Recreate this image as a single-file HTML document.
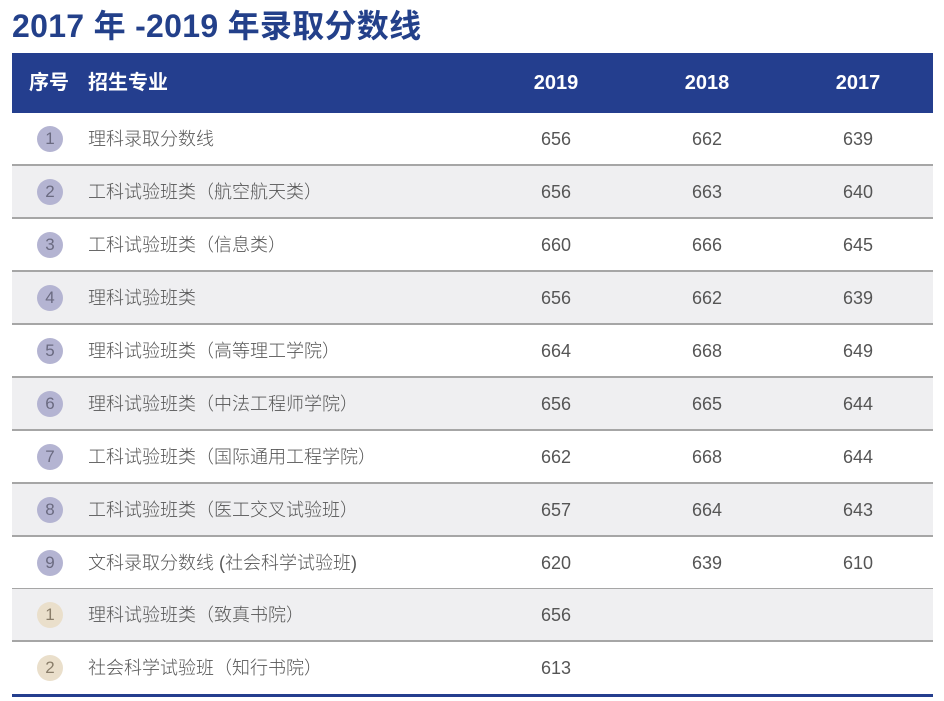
<!DOCTYPE html>
<html><head><meta charset="utf-8"><style>
body{margin:0;width:944px;height:701px;background:#fff;position:relative;overflow:hidden;font-family:"Liberation Sans","Noto Sans CJK SC",sans-serif;}
.title{position:absolute;left:12px;top:1px;font-size:32px;font-weight:bold;color:#23408a;letter-spacing:0.3px;white-space:nowrap;}
.hdr{position:absolute;left:12px;top:53px;width:921px;height:60px;background:#243e8e;color:#fff;font-size:20px;font-weight:bold;}
.hdr span{position:absolute;top:18px;line-height:24px;}
.row{position:absolute;left:12px;width:921px;height:51px;border-bottom:2px solid #a6a6a6;font-size:18px;color:#555;font-weight:300;}
.row.g{background:#efeff1;}
.row .c{position:absolute;left:25px;top:13px;width:26px;height:26px;border-radius:50%;background:#b4b4d2;color:#6a6a80;text-align:center;line-height:26px;font-size:17px;}
.row .c.b{background:#eadfcb;color:#8a7e6a;}
.row span{position:absolute;top:14px;line-height:24px;white-space:nowrap;}
.n{width:80px;text-align:center;}
.bot{position:absolute;left:12px;top:694px;width:921px;height:3px;background:#243e8e;}
</style></head><body>
<div class="title">2017 年 -2019 年录取分数线</div>
<div class="hdr"><span style="left:17px">序号</span><span style="left:76px">招生专业</span><span class="n" style="left:504px">2019</span><span class="n" style="left:655px">2018</span><span class="n" style="left:806px">2017</span></div>

<div class="row" style="top:113px"><div class="c">1</div><span style="left:76px">理科录取分数线</span><span class="n" style="left:504px">656</span><span class="n" style="left:655px">662</span><span class="n" style="left:806px">639</span></div>
<div class="row g" style="top:166px"><div class="c">2</div><span style="left:76px">工科试验班类（航空航天类）</span><span class="n" style="left:504px">656</span><span class="n" style="left:655px">663</span><span class="n" style="left:806px">640</span></div>
<div class="row" style="top:219px"><div class="c">3</div><span style="left:76px">工科试验班类（信息类）</span><span class="n" style="left:504px">660</span><span class="n" style="left:655px">666</span><span class="n" style="left:806px">645</span></div>
<div class="row g" style="top:272px"><div class="c">4</div><span style="left:76px">理科试验班类</span><span class="n" style="left:504px">656</span><span class="n" style="left:655px">662</span><span class="n" style="left:806px">639</span></div>
<div class="row" style="top:325px"><div class="c">5</div><span style="left:76px">理科试验班类（高等理工学院）</span><span class="n" style="left:504px">664</span><span class="n" style="left:655px">668</span><span class="n" style="left:806px">649</span></div>
<div class="row g" style="top:378px"><div class="c">6</div><span style="left:76px">理科试验班类（中法工程师学院）</span><span class="n" style="left:504px">656</span><span class="n" style="left:655px">665</span><span class="n" style="left:806px">644</span></div>
<div class="row" style="top:431px"><div class="c">7</div><span style="left:76px">工科试验班类（国际通用工程学院）</span><span class="n" style="left:504px">662</span><span class="n" style="left:655px">668</span><span class="n" style="left:806px">644</span></div>
<div class="row g" style="top:484px"><div class="c">8</div><span style="left:76px">工科试验班类（医工交叉试验班）</span><span class="n" style="left:504px">657</span><span class="n" style="left:655px">664</span><span class="n" style="left:806px">643</span></div>
<div class="row" style="top:537px"><div class="c">9</div><span style="left:76px">文科录取分数线 (社会科学试验班)</span><span class="n" style="left:504px">620</span><span class="n" style="left:655px">639</span><span class="n" style="left:806px">610</span></div>
<div class="row g" style="top:589px"><div class="c b">1</div><span style="left:76px">理科试验班类（致真书院）</span><span class="n" style="left:504px">656</span></div>
<div class="row" style="top:642px;border-bottom:none"><div class="c b">2</div><span style="left:76px">社会科学试验班（知行书院）</span><span class="n" style="left:504px">613</span></div>
<div class="bot"></div>
</body></html>
